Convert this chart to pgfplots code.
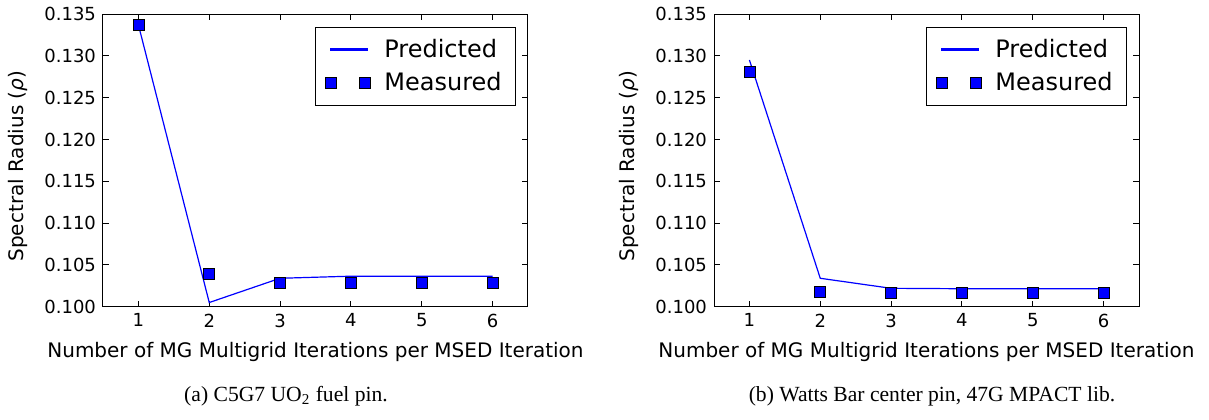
\documentclass[border=0pt]{standalone}
\usepackage{pgfplots}
\pgfplotsset{compat=1.18}
\usepackage{fontspec}
\setmainfont{DejaVu Sans}
\newfontfamily\capfont{Liberation Serif}

\pgfplotsset{
  radplot/.style={
    width=212.5pt, height=146.35pt, scale only axis,
    xmin=0.5, xmax=6.5, ymin=0.100, ymax=0.135,
    xtick={1,...,6},
    ytick={0.100,0.105,...,0.1351},
    tick align=inside, major tick length=3pt,
    axis line style={line width=0.5pt},
    every tick/.style={black, line width=0.5pt},
    tick label style={font=\fontsize{9}{10}\selectfont},
    /pgf/number format/assume math mode=true,
    yticklabel style={/pgf/number format/.cd, fixed, fixed zerofill, precision=3},
    scaled y ticks=false,
    label style={font=\fontsize{10}{12}\selectfont},
    xlabel={Number of MG Multigrid Iterations per MSED Iteration},
    ylabel={Spectral Radius ({\itshape ρ})},
    xlabel style={at={(axis description cs:0.5,-0.155)}, anchor=center},
    ylabel style={at={(axis description cs:-0.2,0.48)}, anchor=center},
    legend style={at={(axis description cs:0.972,0.957)}, anchor=north east,
      draw=black, line width=0.5pt, font=\fontsize{12}{14}\selectfont,
      inner xsep=5pt, inner ysep=4pt, row sep=2pt},
    legend cell align=left,
  },
  predline/.style={color=blue, line width=0.6pt, no marks,
    legend image code/.code={\fill[blue] (0pt,-0.35pt) rectangle (18.5pt,0.35pt);}},
  measmarks/.style={only marks, mark=square*, mark size=2.75pt,
    mark options={fill=blue, draw=black, line width=0.3pt},
    legend image code/.code={\draw[##1,only marks] plot coordinates {(0pt,0pt) (17pt,0pt)};}},
}

\begin{document}
\begin{tikzpicture}
\useasboundingbox (-51.5pt,-56.15pt) rectangle (553pt,153.35pt);

% (a) C5G7 UO2 pin
\begin{axis}[radplot, at={(0pt,0pt)}, anchor=south west]
\addplot[predline] coordinates {
  (1,0.1337) (2,0.1005) (3,0.1034) (4,0.10365) (5,0.10365) (6,0.10365)
};
\addlegendentry{\hspace{5pt}Predicted}
\addplot[measmarks] coordinates {
  (1,0.1337) (2,0.1039) (3,0.1029) (4,0.1029) (5,0.1029) (6,0.1029)
};
\addlegendentry{\hspace{5pt}Measured}
\end{axis}

% (b) Watts Bar center pin
\begin{axis}[radplot, at={(305.5pt,0pt)}, anchor=south west]
\addplot[predline] coordinates {
  (1,0.1295) (2,0.1034) (3,0.1022) (4,0.10215) (5,0.10215) (6,0.10215)
};
\addlegendentry{\hspace{5pt}Predicted}
\addplot[measmarks] coordinates {
  (1,0.1281) (2,0.1018) (3,0.1017) (4,0.1017) (5,0.1017) (6,0.1017)
};
\addlegendentry{\hspace{5pt}Measured}
\end{axis}

\node[anchor=base, font=\capfont\fontsize{10.8}{13}\selectfont] at (91.5pt,-47.15pt)
  {(a) C5G7 UO\textsubscript{2} fuel pin.};
\node[anchor=base, font=\capfont\fontsize{10.8}{13}\selectfont] at (414.5pt,-47.15pt)
  {(b) Watts Bar center pin, 47G MPACT lib.};
\end{tikzpicture}
\end{document}
